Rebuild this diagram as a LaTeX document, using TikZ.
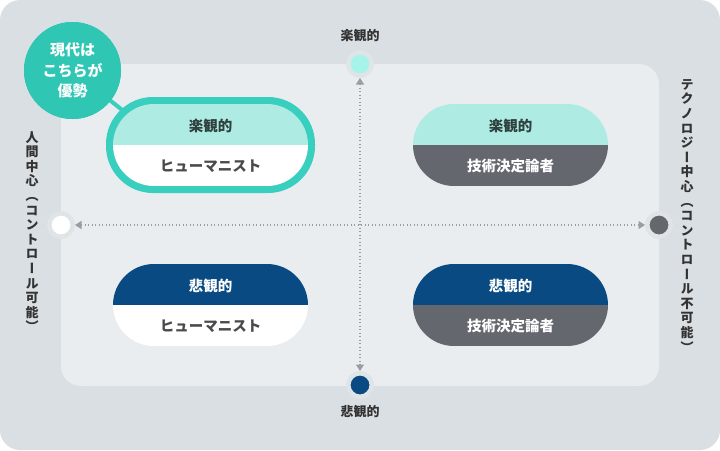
\documentclass[tikz,border=0pt]{standalone}
\usepackage{fontspec}
\setmainfont{Noto Sans CJK JP}
\newfontfamily\vjp{Noto Sans CJK JP}[RawFeature=+vert]
\usetikzlibrary{arrows.meta}
\definecolor{outerbg}{HTML}{D9DFE3}
\definecolor{panelbg}{HTML}{E9EDF0}
\definecolor{halo}{HTML}{DFE4E7}
\definecolor{tealborder}{HTML}{38CFBE}
\definecolor{bubblec}{HTML}{2FC6B3}
\definecolor{lteal}{HTML}{ADEBE3}
\definecolor{aqua}{HTML}{A6F3EA}
\definecolor{dblue}{HTML}{0A4A82}
\definecolor{dgray}{HTML}{64686E}
\definecolor{ttxt}{HTML}{2F403E}
\definecolor{htxt}{HTML}{4A4A4A}
\definecolor{atxt}{HTML}{333333}
\definecolor{axisgray}{HTML}{9A9EA2}
\tikzset{
  dotnode/.style={circle, inner sep=0pt, minimum size=23.5pt, draw=halo, line width=4.5pt},
  axisline/.style={axisgray, line width=1.3pt, dash pattern=on 1.3pt off 2.2pt,
    {Triangle[width=8pt,length=6.5pt]}-{Triangle[width=8pt,length=6.5pt]}},
  axislab/.style={text=atxt, font=\bfseries\fontsize{13}{15}\selectfont, inner sep=0pt},
  vlab/.style={text=atxt, font=\vjp\bfseries\fontsize{13}{14.6}\selectfont, align=center, inner sep=0pt, anchor=north},
  pilltxt/.style={font=\bfseries\fontsize{14.5}{16}\selectfont, inner sep=0pt},
  pillclip/.style={rounded corners=41pt},
}
\begin{document}
\begin{tikzpicture}[x=1pt,y=-1pt]
\useasboundingbox (0,0) rectangle (720,450);
\fill[outerbg, rounded corners=20pt] (0,0) rectangle (720,450);
\fill[panelbg, rounded corners=20pt] (61,64) rectangle (659,386);

% axes
\node[dotnode, fill=aqua] (ptop) at (360,64) {};
\node[dotnode, fill=dblue] (pbot) at (360,385) {};
\node[dotnode, fill=white] (pleft) at (61,225) {};
\node[dotnode, fill=dgray] (pright) at (659,225) {};
\draw[axisline] (ptop) -- (pbot);
\draw[axisline] (pleft) -- (pright);

\node[axislab] (toplab) at (360,36) {楽観的};
\node[axislab] (botlab) at (360,412) {悲観的};
\node[vlab] (leftlab) at (32,131) {人\\間\\中\\心\\（\\コ\\ン\\ト\\ロ\\ー\\ル\\可\\能\\）};
\node[vlab] (rightlab) at (687,79) {テ\\ク\\ノ\\ロ\\ジ\\ー\\中\\心\\（\\コ\\ン\\ト\\ロ\\ー\\ル\\不\\可\\能\\）};

% bubble link
\coordinate (lk) at (126,113);
\node[circle, fill=bubblec, minimum size=97pt, inner sep=0pt] (bubble) at (72.5,70.5) {};
\draw[tealborder, line width=4pt] (bubble.center) -- (lk);
\node[circle, fill=bubblec, minimum size=97pt, inner sep=0pt, align=center, text=white,
  font=\bfseries\fontsize{15}{20.5}\selectfont] (bubbletxt) at (72.5,70.5) {現代は\\こちらが\\優勢};

% top-left pill
\fill[tealborder, rounded corners=47pt] (106,97) rectangle (315,193);
\begin{scope}
\clip[pillclip] (113,104) rectangle (308,186);
\fill[lteal] (113,104) rectangle (308,145);
\fill[white] (113,145) rectangle (308,186);
\end{scope}
\node[pilltxt, text=ttxt] (tlt) at (210.5,126) {楽観的};
\node[pilltxt, text=htxt] (tlb) at (210.5,166) {ヒューマニスト};

% top-right pill
\begin{scope}
\clip[pillclip] (413,104) rectangle (608,186);
\fill[lteal] (413,104) rectangle (608,145);
\fill[dgray] (413,145) rectangle (608,186);
\end{scope}
\node[pilltxt, text=ttxt] (trt) at (510.5,126) {楽観的};
\node[pilltxt, text=white] (trb) at (510.5,166) {技術決定論者};

% bottom-left pill
\begin{scope}
\clip[pillclip] (113,264) rectangle (308,346);
\fill[dblue] (113,264) rectangle (308,305);
\fill[white] (113,305) rectangle (308,346);
\end{scope}
\node[pilltxt, text=white] (blt) at (210.5,286) {悲観的};
\node[pilltxt, text=htxt] (blb) at (210.5,326) {ヒューマニスト};

% bottom-right pill
\begin{scope}
\clip[pillclip] (413,264) rectangle (608,346);
\fill[dblue] (413,264) rectangle (608,305);
\fill[dgray] (413,305) rectangle (608,346);
\end{scope}
\node[pilltxt, text=white] (brt) at (510.5,286) {悲観的};
\node[pilltxt, text=white] (brb) at (510.5,326) {技術決定論者};
\end{tikzpicture}
\end{document}
